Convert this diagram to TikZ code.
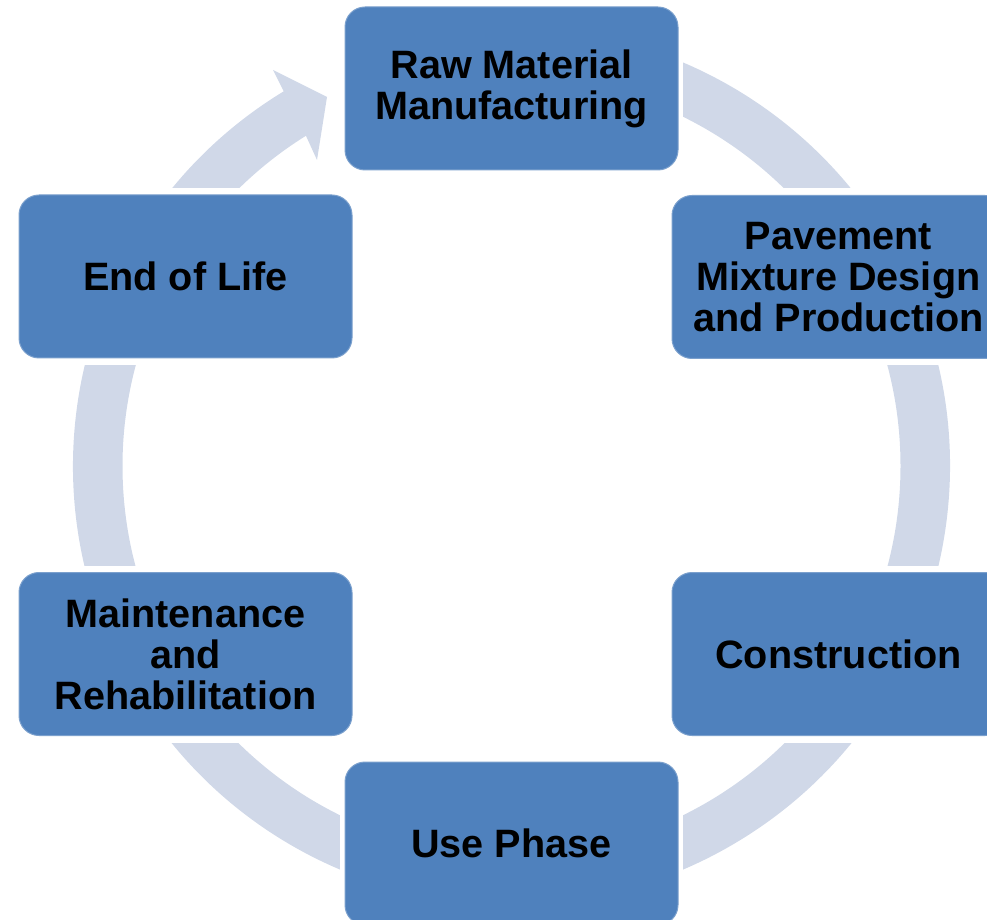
\documentclass[tikz,border=0pt]{standalone}
\usepackage{fontspec}
\setmainfont{Liberation Sans}
\usetikzlibrary{backgrounds}
\definecolor{boxblue}{RGB}{79,129,189}
\definecolor{ringblue}{RGB}{208,216,232}
\tikzset{
  stage/.style={rounded corners=20, fill=boxblue, draw=boxblue!75!white, line width=1,
    minimum width=333, minimum height=163, align=center, inner sep=0, outer sep=0,
    font=\fontsize{39.6}{41}\selectfont\bfseries},
  cut/.style={fill=white}
}
\begin{document}
\begin{tikzpicture}[x=1pt,y=1pt]
\useasboundingbox (0,0) rectangle (987,919);
\clip (0,0) rectangle (987,919);
\node[stage] (raw)  at (511.5,830.5) {Raw Material\\Manufacturing};
\node[stage] (pmd)  at (838.5,642)   {Pavement\\Mixture Design\\and Production};
\node[stage] (con)  at (838.5,265)   {Construction};
\node[stage] (use)  at (511.5,75.5)  {Use Phase};
\node[stage] (mr)   at (185.5,265)   {Maintenance\\and\\Rehabilitation};
\node[stage] (eol)  at (185.5,642.5) {End of Life};
\begin{scope}[on background layer]
  \begin{scope}[shift={(511.5,453)}]
    \fill[ringblue] (121.3:438.5) arc[start angle=121.3,end angle=450,radius=438.5]
      -- (450:389) arc[start angle=450,end angle=121.9,radius=389]
      -- (-194.5,306) -- (-184.5,369) -- (-238.5,396) -- cycle;
  \end{scope}
  \foreach \n in {raw,pmd,con,use,mr,eol}{
    \fill[cut] ([xshift=-5,yshift=-7]\n.south west) rectangle ([xshift=5,yshift=7]\n.north east);
  }
\end{scope}
\end{tikzpicture}
\end{document}
